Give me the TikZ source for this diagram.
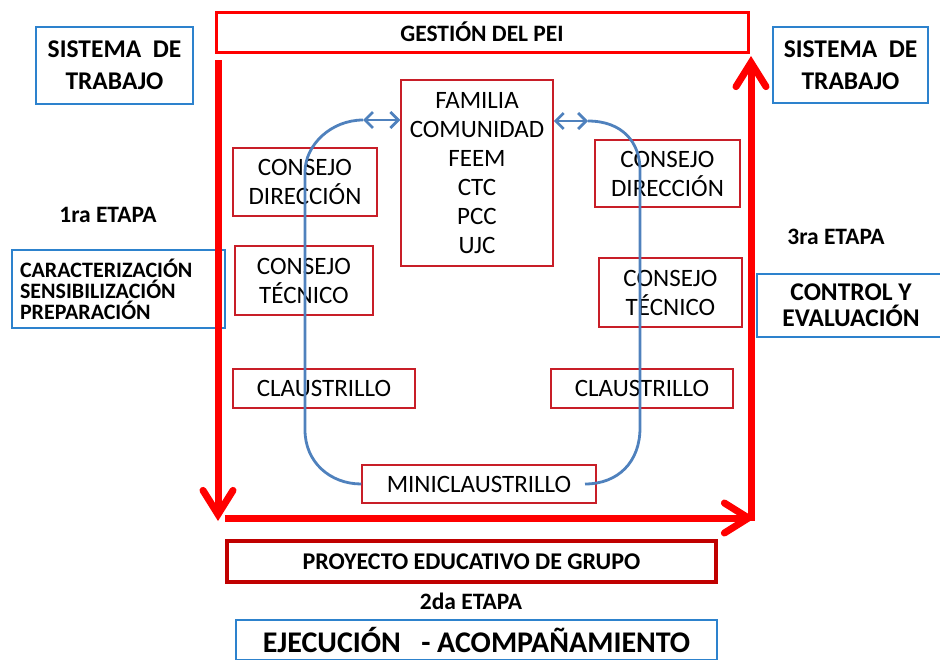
\documentclass[tikz,border=0pt]{standalone}
\usepackage{fontspec}
\setmainfont{Carlito}
\usepackage{tikz}
\usetikzlibrary{arrows.meta}
\definecolor{brightred}{RGB}{255,0,0}
\definecolor{boxred}{RGB}{200,30,40}
\definecolor{darkred}{RGB}{192,0,0}
\definecolor{boxblue}{RGB}{45,130,205}
\definecolor{loopblue}{RGB}{79,129,189}
\newcommand{\drawredarrow}{\draw[brightred, line width=7pt, -{Straight Barb[length=24pt,width=30pt,line cap=round]}]}
\newcommand{\drawloop}{\draw[loopblue, line width=2.8pt]}

\begin{document}
\begin{tikzpicture}[x=1pt, y=-1pt,
    redbox/.style={draw=boxred, line width=1.5pt, align=center, inner sep=0pt,
        font=\fontsize{25}{29}\selectfont},
    bluebox/.style={draw=boxblue, line width=1.8pt, align=center, inner sep=0pt,
        font=\bfseries\fontsize{25.5}{32}\selectfont},
    etapa/.style={font=\bfseries\fontsize{23.5}{26}\selectfont},
    loophead/.style={{Straight Barb[length=8pt,width=16pt]}-{Straight Barb[length=8pt,width=16pt]}}]
    \useasboundingbox (0,0) rectangle (940,659);

    % Draw headers
    \node[draw=brightred, line width=3pt, minimum width=532pt, minimum height=40pt,
        font=\bfseries\fontsize{23.5}{26}\selectfont] (gestion) at (482,32) {GESTIÓN DEL PEI};
    \node[draw=darkred, line width=3.5pt, minimum width=489pt, minimum height=41pt,
        font=\bfseries\fontsize{24}{26}\selectfont] (proyecto) at (471.5,561.5) {PROYECTO EDUCATIVO DE GRUPO};

    % Draw side boxes
    \node[bluebox, minimum width=157pt, minimum height=77pt] (sistemaL) at (114.5,65.5) {SISTEMA\ \ DE\\TRABAJO};
    \node[bluebox, minimum width=155pt, minimum height=76pt] (sistemaR) at (850.5,65) {SISTEMA\ \ DE\\TRABAJO};
    \node[etapa] (etapa1) at (108,215) {1ra ETAPA};
    \node[bluebox, minimum height=78pt, inner xsep=8pt, text width=197pt, align=left,
        font=\bfseries\fontsize{22}{21}\selectfont] (caract) at (118.5,289)
        {CARACTERIZACIÓN\\SENSIBILIZACIÓN\\PREPARACIÓN};
    \node[etapa] (etapa3) at (836,237) {3ra ETAPA};
    \node[bluebox, minimum width=188pt, minimum height=63pt,
        font=\bfseries\fontsize{25.5}{26}\selectfont] (control) at (851,305.5) {CONTROL Y\\EVALUACIÓN};
    \node[etapa] (etapa2) at (471,601) {2da ETAPA};
    \node[bluebox, minimum width=481pt, minimum height=40pt,
        font=\bfseries\fontsize{30}{32}\selectfont] (ejecucion) at (476.5,640) {EJECUCIÓN\ \ \ - ACOMPAÑAMIENTO};

    % Draw inner boxes
    \node[redbox, minimum width=152pt, minimum height=186pt] (familia) at (477,173)
        {FAMILIA\\COMUNIDAD\\FEEM\\CTC\\PCC\\UJC};
    \node[redbox, minimum width=144pt, minimum height=68pt] (direccionL) at (305,182) {CONSEJO\\DIRECCIÓN};
    \node[redbox, minimum width=138pt, minimum height=69pt] (tecnicoL) at (304,280.5) {CONSEJO\\TÉCNICO};
    \node[redbox, minimum width=182pt, minimum height=39pt] (claustrilloL) at (324,388.5) {CLAUSTRILLO};
    \node[redbox, minimum width=145pt, minimum height=67pt] (direccionR) at (667.5,173.5) {CONSEJO\\DIRECCIÓN};
    \node[redbox, minimum width=143pt, minimum height=69pt] (tecnicoR) at (670.5,292.5) {CONSEJO\\TÉCNICO};
    \node[redbox, minimum width=182pt, minimum height=39pt] (claustrilloR) at (642,388.5) {CLAUSTRILLO};
    \node[redbox, minimum width=234pt, minimum height=38pt] (mini) at (479,484) {MINICLAUSTRILLO};

    % Draw loop
    \coordinate (loopL) at (363,120);
    \coordinate (loopR) at (588,121);
    \coordinate (miniR) at (585,484);
    \drawloop[loophead] (loopL) -- (familia.west |- loopL);
    \drawloop[loophead] (familia.east |- loopR) -- (loopR);
    \drawloop (loopL) .. controls (331,120) and (305,145) .. (305,172) -- (305,430)
        .. controls (305,462) and (330,484) .. (mini.west);
    \drawloop (loopR) .. controls (622,121) and (640,142) .. (640,170) -- (640,428)
        .. controls (640,462) and (618,484) .. (miniR);

    % Draw stage arrows
    \coordinate (topL) at (218,60);
    \coordinate (botL) at (218,521);
    \coordinate (startB) at (225,518);
    \coordinate (endB) at (755,518);
    \coordinate (startR) at (751,521);
    \coordinate (topR) at (751,56);
    \drawredarrow (topL) -- (botL);
    \drawredarrow (startB) -- (endB);
    \drawredarrow (startR) -- (topR);
\end{tikzpicture}
\end{document}
